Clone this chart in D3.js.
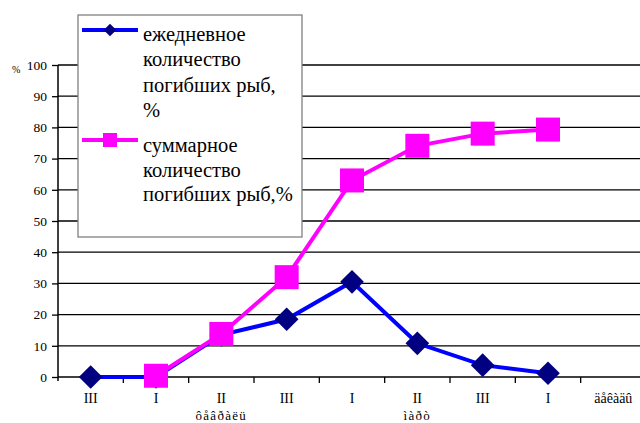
<!DOCTYPE html>
<html>
<head>
<meta charset="utf-8">
<script src="https://cdn.jsdelivr.net/npm/d3@7"></script>
<style>
	body{margin:0;background:#fff;}
</style>
</head>
<body>
<svg id="chart" width="640" height="423"></svg>
<script>
// decades on the x axis (last one is the axis caption, as in the source)
var categories = ["III","I","II","III","I","II","III","I","äåêàäû"];
var months = [null,null,"ôåâðàëü",null,null,"ìàðò",null,null,null];
var yTicks = [0,10,20,30,40,50,60,70,80,90,100];
// daily share of dead fish, %
var daily = [0,0,13.5,18.5,30.5,10.8,3.8,1.2];
// cumulative share of dead fish, % (starts at the 2nd decade)
var total = [null,0.4,13.8,32,63,74.1,78,79.3];
var legendDaily = ["ежедневное","количество","погибших рыб,","%"];
var legendTotal = ["суммарное","количество","погибших рыб,%"];

var serif = "'Liberation Serif', 'DejaVu Serif', serif";
var svg = d3.select("#chart");
var plotLeft = 58, plotTop = 65, plotBottom = 377, plotRight = 646;

var x = d3.scaleBand().domain(d3.range(categories.length)).range([plotLeft,plotRight]);
var y = d3.scaleLinear().domain([0,100]).range([plotBottom,plotTop]);

// horizontal grid
svg.append("g").selectAll("line").data(yTicks.slice(1)).enter().append("line")
	.attr("x1",plotLeft).attr("x2",640)
	.attr("y1",function(d){return y(d);}).attr("y2",function(d){return y(d);})
	.attr("stroke","#000").attr("stroke-width",1.3);

// y axis
var yAxis = d3.axisLeft(y).tickValues(yTicks).tickSize(6).tickPadding(5);
var gy = svg.append("g").attr("transform","translate("+plotLeft+",0)").call(yAxis);
gy.select(".domain").attr("stroke","#000").attr("stroke-width",1.5).attr("d","M0,"+(plotBottom+4)+"V"+plotTop);
gy.selectAll(".tick line").attr("stroke","#000").attr("stroke-width",1.3);
gy.selectAll("text").style("font-size","13.5px").style("font-family",serif).attr("fill","#000");

svg.append("text").attr("x",12).attr("y",73).style("font-size","10px").style("font-family",serif).text("%");

// x axis
var xAxis = d3.axisBottom(x).tickSize(0).tickFormat(function(i){return categories[i];}).tickPadding(0);
var gx = svg.append("g").attr("transform","translate(0,"+plotBottom+")").call(xAxis);
gx.select(".domain").attr("d","M"+plotLeft+",0H640").attr("stroke","#000").attr("stroke-width",1.5);
gx.selectAll("text").style("font-size","14px").style("font-family",serif).attr("fill","#000").attr("dy",0).attr("y",26);
gx.selectAll(".tick").append("text")
	.attr("y",43).attr("fill","#000").style("font-size","13px").style("letter-spacing","1.3px").style("font-family",serif)
	.text(function(i){return months[i];});
// tick marks between the categories
svg.append("g").selectAll("line").data(d3.range(1,categories.length)).enter().append("line")
	.attr("x1",function(i){return x(i);}).attr("x2",function(i){return x(i);})
	.attr("y1",plotBottom).attr("y2",plotBottom+6)
	.attr("stroke","#000").attr("stroke-width",1.3);

function cx(i){return x(i)+x.bandwidth()/2;}

var line = d3.line()
	.defined(function(d){return d!=null;})
	.x(function(d,i){return cx(i);})
	.y(function(d){return y(d);});

svg.append("path").datum(daily).attr("d",line)
	.attr("fill","none").attr("stroke","#0000ff").attr("stroke-width",4);
svg.append("path").datum(total).attr("d",line)
	.attr("fill","none").attr("stroke","#ff00ff").attr("stroke-width",4);

var diamond = d3.symbol().type(d3.symbolSquare).size(280);
svg.append("g").selectAll("path").data(daily).enter().append("path")
	.attr("d",diamond)
	.attr("transform",function(d,i){return "translate("+cx(i)+","+y(d)+") rotate(45)";})
	.attr("fill","#000080");

svg.append("g").selectAll("rect").data(total.map(function(d,i){return {v:d,i:i};}).filter(function(d){return d.v!=null;}))
	.enter().append("rect")
	.attr("x",function(d){return cx(d.i)-12;}).attr("y",function(d){return y(d.v)-12;})
	.attr("width",24).attr("height",24).attr("fill","#ff00ff");

// legend
var lg = svg.append("g");
lg.append("rect").attr("x",78).attr("y",15).attr("width",224).attr("height",222)
	.attr("fill","#fff").attr("stroke","#808080").attr("stroke-width",1.3);

lg.append("line").attr("x1",82).attr("x2",138).attr("y1",30).attr("y2",30)
	.attr("stroke","#0000ff").attr("stroke-width",4);
lg.append("path").attr("d",d3.symbol().type(d3.symbolSquare).size(80))
	.attr("transform","translate(110,30) rotate(45)").attr("fill","#000080");
lg.append("line").attr("x1",82).attr("x2",138).attr("y1",140).attr("y2",140)
	.attr("stroke","#ff00ff").attr("stroke-width",4);
lg.append("rect").attr("x",103).attr("y",133).attr("width",14).attr("height",14).attr("fill","#ff00ff");

lg.append("g").selectAll("text").data(legendDaily).enter().append("text")
	.attr("x",143).attr("y",function(d,i){return 41+i*25.3;})
	.style("font-size","20.5px").style("font-family",serif).text(function(d){return d;});
lg.append("g").selectAll("text").data(legendTotal).enter().append("text")
	.attr("x",143).attr("y",function(d,i){return 152+i*24.5;})
	.style("font-size","20.5px").style("font-family",serif).text(function(d){return d;});
</script>
</body>
</html>
